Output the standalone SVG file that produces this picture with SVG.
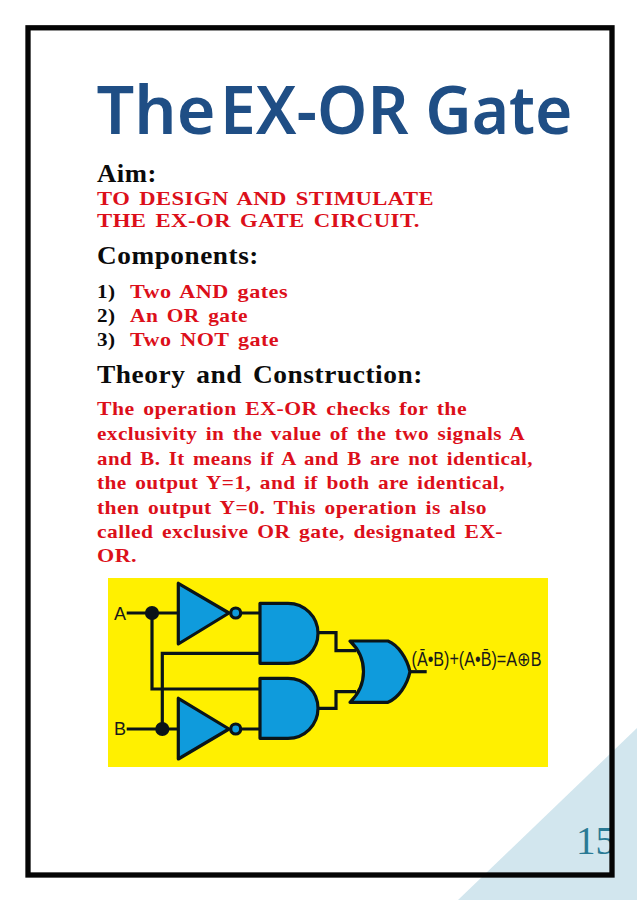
<svg xmlns="http://www.w3.org/2000/svg" width="638" height="901" viewBox="0 0 638 901">
<style>
.t{font-family:"Liberation Serif","Times New Roman",serif;font-weight:bold}
.h{font-size:24.5px;fill:#0b0b0b;letter-spacing:.5px;word-spacing:3px}
.r{fill:#dc0f1a}
.n{fill:#0b0b0b}
.s{font-size:19.5px;letter-spacing:.4px;word-spacing:2.5px}
.w{fill:none;stroke:#0a1418;stroke-width:3.2}
.g{fill:#0f9bdc;stroke:#0a1418;stroke-width:3.2;stroke-linejoin:round}
</style>
<rect width="638" height="901" fill="#fff"/>
<polygon points="637,728 637,900 458,900" fill="#d2e6ee"/>
<text x="576" y="854" font-family="Liberation Serif, serif" font-size="39" fill="#2a7a94">15</text>
<rect id="frame" x="28" y="27.8" width="584" height="847.2" fill="none" stroke="#050505" stroke-width="5.3"/>
<g id="title" font-family="Noto Sans, DejaVu Sans, sans-serif" font-size="66" font-weight="600" fill="#1f4e85">
<text x="96.5" y="134.3" textLength="119" lengthAdjust="spacingAndGlyphs">The</text>
<text x="220" y="134.3" textLength="352.5" lengthAdjust="spacingAndGlyphs">EX-OR Gate</text>
</g>
<g id="text">
<text class="t h" x="97" y="181.7" textLength="60" lengthAdjust="spacingAndGlyphs">Aim:</text>
<text class="t r s" x="97" y="204.5" textLength="337" lengthAdjust="spacingAndGlyphs">TO DESIGN AND STIMULATE</text>
<text class="t r s" x="97" y="227.3" textLength="323" lengthAdjust="spacingAndGlyphs">THE EX-OR GATE CIRCUIT.</text>
<text class="t h" x="97" y="264" textLength="162" lengthAdjust="spacingAndGlyphs">Components:</text>
<text class="t n s" x="97" y="298" textLength="18.5" lengthAdjust="spacingAndGlyphs">1)</text><text class="t r s" x="130" y="298" textLength="158" lengthAdjust="spacingAndGlyphs">Two AND gates</text>
<text class="t n s" x="97" y="322" textLength="18.5" lengthAdjust="spacingAndGlyphs">2)</text><text class="t r s" x="130" y="322" textLength="118" lengthAdjust="spacingAndGlyphs">An OR gate</text>
<text class="t n s" x="97" y="346" textLength="18.5" lengthAdjust="spacingAndGlyphs">3)</text><text class="t r s" x="130" y="346" textLength="149" lengthAdjust="spacingAndGlyphs">Two NOT gate</text>
<text class="t h" x="97" y="382.7" textLength="326" lengthAdjust="spacingAndGlyphs">Theory and Construction:</text>
<text class="t r s" x="97" y="415" textLength="370" lengthAdjust="spacingAndGlyphs">The operation EX-OR checks for the</text>
<text class="t r s" x="97" y="440" textLength="428" lengthAdjust="spacingAndGlyphs">exclusivity in the value of the two signals A</text>
<text class="t r s" x="97" y="464.5" textLength="436" lengthAdjust="spacingAndGlyphs">and B. It means if A and B are not identical,</text>
<text class="t r s" x="97" y="489" textLength="408" lengthAdjust="spacingAndGlyphs">the output Y=1, and if both are identical,</text>
<text class="t r s" x="97" y="513.5" textLength="390" lengthAdjust="spacingAndGlyphs">then output Y=0. This operation is also</text>
<text class="t r s" x="97" y="537.5" textLength="406" lengthAdjust="spacingAndGlyphs">called exclusive OR gate, designated EX-</text>
<text class="t r s" x="97" y="562" textLength="40" lengthAdjust="spacingAndGlyphs">OR.</text>
</g>
<rect id="panel" x="108" y="578" width="440" height="189" fill="#fff000"/>
<g id="connectors" class="w">
<path d="M126.7,613H178M241,613H260"/>
<path d="M152,613V689H260"/>
<path d="M260,653.3H162.3V729"/>
<path d="M126.7,729H178M241,729H260"/>
<path d="M318,632.7H336V650.7H356"/>
<path d="M318,708.3H336V691.7H356"/>
<path d="M410,671.7H426.7"/>
<circle cx="152" cy="613" r="5.5" fill="#0a1418"/>
<circle cx="162.3" cy="729" r="5.5" fill="#0a1418"/>
</g>
<g id="not1"><polygon class="g" points="178.3,583.3 178.3,644 229,613"/><circle class="g" cx="235.7" cy="613" r="5"/></g>
<g id="not2"><polygon class="g" points="178.3,698.3 178.3,759 229,729"/><circle class="g" cx="235.7" cy="729" r="5"/></g>
<g id="and1"><path class="g" d="M260,603.3H288A30,30 0 0 1 288,663.3H260Z"/></g>
<g id="and2"><path class="g" d="M260,678.3H288A30,30 0 0 1 288,738.3H260Z"/></g>
<g id="or1"><path class="g" d="M350,641H388C398,645 407,658 410,671.7C407,686 398,698 388,702.3H350C368,685 368,658 350,641Z"/></g>
<g id="labels" font-family="Liberation Sans, Arial, sans-serif" fill="#1a1a1a">
<text x="114" y="619.5" font-size="18">A</text>
<text x="114" y="735" font-size="18">B</text>
<text x="411.5" y="666" font-size="20" textLength="130" lengthAdjust="spacingAndGlyphs">(Ā•B)+(A•B̄)=A⊕B</text>
</g>
</svg>
